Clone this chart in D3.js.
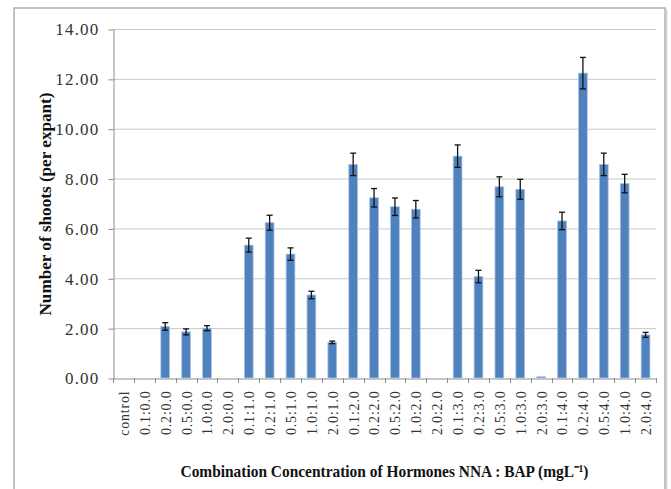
<!DOCTYPE html>
<html><head><meta charset="utf-8">
<script src="https://cdn.jsdelivr.net/npm/d3@7/dist/d3.min.js"></script>
<style>
html,body{margin:0;padding:0;background:#fff;}
svg text{font-family:"Liberation Serif","Times New Roman",serif;}
</style></head>
<body>
<svg id="c" width="671" height="489"></svg>
<script>
const categories = ["control","0.1:0.0","0.2:0.0","0.5:0.0","1.0:0.0","2.0:0.0",
  "0.1:1.0","0.2:1.0","0.5:1.0","1.0:1.0","2.0:1.0",
  "0.1:2.0","0.2:2.0","0.5:2.0","1.0:2.0","2.0:2.0",
  "0.1:3.0","0.2:3.0","0.5:3.0","1.0:3.0","2.0:3.0",
  "0.1:4.0","0.2:4.0","0.5:4.0","1.0:4.0","2.0:4.0"];
const values = [0,0,2.07,1.85,2.0,0,
  5.33,6.23,4.97,3.33,1.43,
  8.57,7.23,6.87,6.77,0,
  8.9,4.07,7.67,7.57,0.05,
  6.3,12.23,8.57,7.8,1.73];
const errors = [0,0,0.15,0.12,0.1,0,
  0.28,0.3,0.25,0.15,0.05,
  0.45,0.37,0.35,0.35,0,
  0.45,0.25,0.4,0.4,0,
  0.35,0.63,0.45,0.37,0.1];
const yTicks = [0,2,4,6,8,10,12,14];

const svg = d3.select("#c");
const L = 113, R = 656, T = 29, B = 378;

// outer border
svg.append("rect").attr("x",14).attr("y",8).attr("width",651).attr("height",490)
  .attr("fill","none").attr("stroke","#b0b0b0").attr("stroke-width",1.5);
svg.append("line").attr("x1",666.5).attr("x2",666.5).attr("y1",9).attr("y2",489)
  .attr("stroke","#d0d0d0").attr("stroke-width",1.5);

const x = d3.scaleBand().domain(categories).range([L,R]).paddingInner(0).paddingOuter(0);
const y = d3.scaleLinear().domain([0,14]).range([B,T]);

// gridlines
svg.append("g").selectAll("line").data(yTicks.filter(d=>d>0)).join("line")
  .attr("x1",L).attr("x2",R).attr("y1",d=>y(d)+0.5).attr("y2",d=>y(d)+0.5)
  .attr("stroke","#c8c8c8").attr("stroke-width",1);

// y axis
const ya = svg.append("g").attr("transform",`translate(${L+0.5},0.5)`)
  .call(d3.axisLeft(y).tickValues(yTicks).tickFormat(d3.format(".2f")).tickSize(5).tickSizeOuter(0));
ya.attr("font-family",null);
ya.select(".domain").attr("stroke","#8c8c8c");
ya.selectAll(".tick line").attr("stroke","#8c8c8c");
ya.selectAll(".tick text").attr("font-size",17).attr("fill","#333").attr("x",-14)
  .style("letter-spacing","1.2px")
  .style("font-family","'Liberation Serif',serif");

// x axis
const xa = svg.append("g").attr("transform",`translate(0.5,${B+0.5})`)
  .call(d3.axisBottom(x).tickSize(0).tickSizeOuter(0));
xa.attr("font-family",null);
xa.select(".domain").attr("stroke","#8c8c8c");
xa.selectAll(".tick text").attr("font-size",14).attr("fill","#333")
  .attr("transform","rotate(-90)").attr("text-anchor","end")
  .attr("x",-12).attr("y",0).attr("dy","0.35em")
  .style("letter-spacing","0.8px")
  .style("font-family","'Liberation Serif',serif");
// band boundary ticks
svg.append("g").selectAll("line").data(categories.concat(["__end"])).join("line")
  .attr("x1",(d,i)=>Math.round(L + i*x.step())+0.5).attr("x2",(d,i)=>Math.round(L + i*x.step())+0.5)
  .attr("y1",B).attr("y2",B+5).attr("stroke","#8c8c8c");

// bars
const bw = x.bandwidth()*0.42;
svg.append("g").selectAll("rect").data(categories).join("rect")
  .attr("x",(d)=>x(d)+x.bandwidth()/2-bw/2)
  .attr("y",(d,i)=>y(values[i]))
  .attr("width",bw)
  .attr("height",(d,i)=>B-y(values[i]))
  .attr("fill","#4f81bd").attr("stroke","#a9c4e6").attr("stroke-width",0.8);

// error bars
const eb = svg.append("g").attr("stroke","#111").attr("stroke-width",1.3);
categories.forEach((c,i)=>{
  if(values[i] <= 0.1) return;
  const cx = x(c)+x.bandwidth()/2;
  const y1 = y(values[i]+errors[i]), y2 = y(values[i]-errors[i]);
  eb.append("line").attr("x1",cx).attr("x2",cx).attr("y1",y1).attr("y2",y2);
  eb.append("line").attr("x1",cx-3).attr("x2",cx+3).attr("y1",y1).attr("y2",y1);
  eb.append("line").attr("x1",cx-3).attr("x2",cx+3).attr("y1",y2).attr("y2",y2);
});

// axis titles
svg.append("text").attr("transform","translate(51,204) rotate(-90)")
  .attr("text-anchor","middle").attr("font-size",17).attr("font-weight","bold").attr("fill","#111")
  .attr("textLength",223).attr("lengthAdjust","spacingAndGlyphs")
  .text("Number of shoots (per expant)");

// x title: a single text, scaled horizontally to match the reference width
const xg = svg.append("g");
const xt = xg.append("text").attr("x",0).attr("y",0)
  .attr("text-anchor","start").attr("font-size",17).attr("font-weight","bold").attr("fill","#111")
  .text("Combination Concentration of Hormones NNA : BAP (mgL\u207B\u00B9)");
const w = xt.node().getComputedTextLength();
const sx = 409 / w;
xg.attr("transform",`translate(${385 - 409/2},477) scale(${sx},1)`);
</script>
</body></html>
